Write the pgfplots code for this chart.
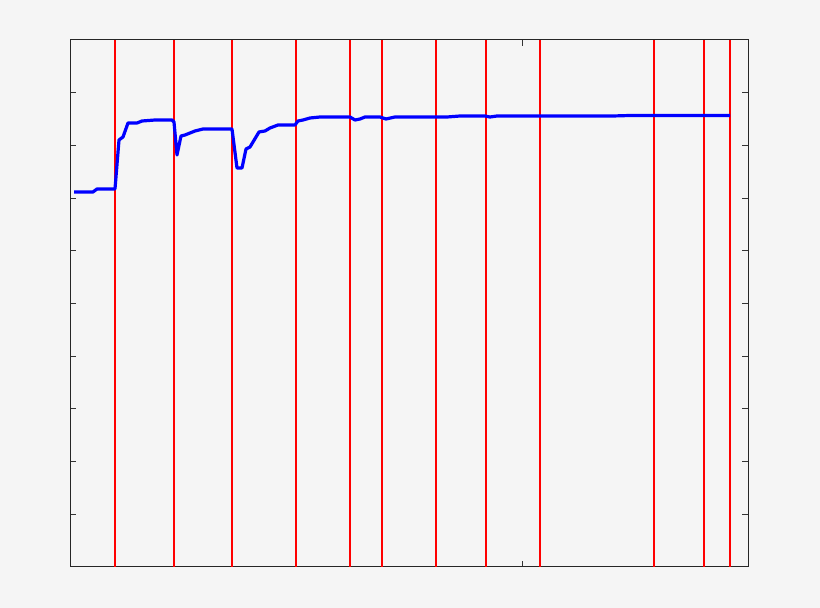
\documentclass[border=0pt]{standalone}
\usepackage{pgfplots}
\pgfplotsset{compat=1.18}
\definecolor{bg}{HTML}{F5F5F5}
\begin{document}
\begin{tikzpicture}[x=1pt,y=1pt]
\fill[bg] (0,0) rectangle (820,608);
\begin{axis}[
  at={(70pt,41pt)}, anchor=south west,
  scale only axis, width=678pt, height=527pt,
  xmin=0, xmax=678, ymin=0, ymax=527,
  xtick={452}, ytick={52.7,105.4,158.1,210.8,263.5,316.2,368.9,421.6,474.3},
  xticklabels={}, yticklabels={},
  tick align=inside, major tick length=6pt,
  tick style={black!80, line width=0.8pt},
  axis line style={black!85, line width=1pt},
  axis background/.style={fill=bg},
  clip=true,
]
\foreach \xx in {45,104,162.3,226,280.3,312,366,416,470.3,583.7,633.7,660.3}{
  \edef\temp{\noexpand\addplot[red, line width=1.8pt] coordinates {(\xx,0) (\xx,527)};}
  \temp
}
\addplot[blue, line width=3.2pt, line join=round] coordinates {
(4,375)(23,375)(27,378)(45,378)(49,427)(53,430)(58,444)(67,444)(72,446)(85,447)(102,447)(104,445)(107,412)(111,431)(115,432)(125,436)(133,438)(162,438)(167,399)(172,399)(176,418)(180,420)(189,435)(195,436)(200,439)(208,442)(225,442)(228,446)(233,447)(240,449)(250,450)(280,450)(285,447)(290,448)(295,450)(310,450)(316,448)(325,450)(377,450)(390,451)(415,451)(420,450)(427,451)(543,451)(560,451.5)(660,451.5)
};
\end{axis}
\end{tikzpicture}
\end{document}
